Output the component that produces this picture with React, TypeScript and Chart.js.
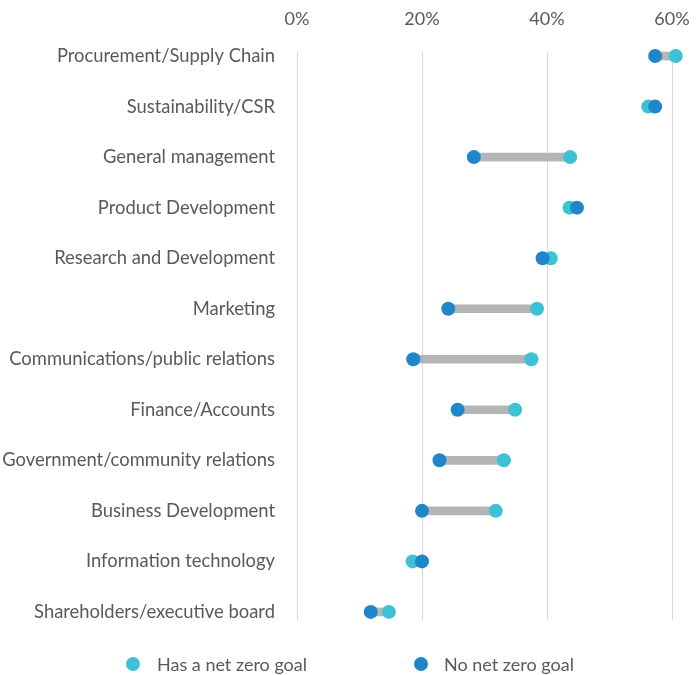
import React, { useEffect, useRef } from "react";
import { Chart, registerables } from "chart.js";

Chart.register(...registerables);

const categories = [
  "Procurement/Supply Chain",
  "Sustainability/CSR",
  "General management",
  "Product Development",
  "Research and Development",
  "Marketing",
  "Communications/public relations",
  "Finance/Accounts",
  "Government/community relations",
  "Business Development",
  "Information technology",
  "Shareholders/executive board",
];

const hasGoal = [60.6, 56.2, 43.7, 43.6, 40.6, 38.4, 37.5, 34.9, 33.1, 31.8, 18.5, 14.7];
const noGoal = [57.3, 57.3, 28.3, 44.8, 39.3, 24.2, 18.6, 25.7, 22.8, 20.0, 20.0, 11.8];

const xTickValues = [0, 20, 40, 60];
const seriesNames = ["Has a net zero goal", "No net zero goal"];

const CYAN = "#3cc2d4";
const BLUE = "#1f87c9";
const GRAY = "#b3b6b6";
const TEXT = "#595959";
const FONT_FAMILY = "Lato, 'Open Sans', sans-serif";
const FONT_SIZE = 18.4;

const bottomLegend = {
  id: "bottomLegend",
  afterDraw(chart: any) {
    const ctx = chart.ctx as CanvasRenderingContext2D;
    const items = [chart.data.datasets[1], chart.data.datasets[2]];
    ctx.save();
    ctx.font = `18px ${FONT_FAMILY}`;
    ctx.textBaseline = "middle";
    ctx.textAlign = "left";
    const r = 7;
    const mid = chart.width / 2;
    const centers = [mid - 217, mid + 71];
    const textOffsets = [24, 23];
    const y = 664;
    items.forEach((d: any, i: number) => {
      ctx.fillStyle = d.backgroundColor;
      ctx.beginPath();
      ctx.arc(centers[i], y, r, 0, Math.PI * 2);
      ctx.fill();
      ctx.fillStyle = TEXT;
      ctx.fillText(d.label, centers[i] + textOffsets[i], y + 1);
    });
    ctx.restore();
  },
};

function DumbbellChart() {
  const ref = useRef<HTMLCanvasElement | null>(null);
  useEffect(() => {
    if (!ref.current) return;
    const chart = new Chart(ref.current, {
      type: "bar",
      data: {
        datasets: [
          {
            type: "bar",
            label: "range",
            data: categories.map((_, i) => ({ x: [noGoal[i], hasGoal[i]], y: i })) as any,
            backgroundColor: GRAY,
            barThickness: 8,
            borderWidth: 0,
            order: 2,
            clip: false as any,
          },
          {
            type: "scatter",
            label: seriesNames[0],
            data: categories.map((_, i) => ({ x: hasGoal[i], y: i })),
            backgroundColor: CYAN,
            borderColor: CYAN,
            pointRadius: 7,
            pointHoverRadius: 7,
            borderWidth: 0,
            order: 1,
            clip: false as any,
          },
          {
            type: "scatter",
            label: seriesNames[1],
            data: categories.map((_, i) => ({ x: noGoal[i], y: i })),
            backgroundColor: BLUE,
            borderColor: BLUE,
            pointRadius: 7,
            pointHoverRadius: 7,
            borderWidth: 0,
            order: 0,
            clip: false as any,
          },
        ] as any,
      },
      plugins: [bottomLegend],
      options: {
        animation: false,
        responsive: true,
        maintainAspectRatio: false,
        indexAxis: "y",
        layout: { padding: { left: 0, right: 28, top: 0, bottom: 55 } },
        plugins: {
          legend: { display: false },
          tooltip: { enabled: false },
        },
        scales: {
          x: {
            type: "linear",
            position: "top",
            min: 0,
            max: 60,
            afterBuildTicks: (s: any) => {
              s.ticks = xTickValues.map((v) => ({ value: v }));
            },
            afterFit: (s: any) => {
              s.height = 52;
              s.paddingLeft = 0;
              s.paddingRight = 0;
            },
            ticks: {
              padding: 22,
              color: TEXT,
              font: { family: FONT_FAMILY, size: 18 },
              callback: (v: any) => `${v}%`,
              maxRotation: 0,
            },
            grid: { color: "#d8d8d8", lineWidth: 1, drawTicks: false },
            border: { display: false },
          },
          y: {
            type: "linear",
            reverse: true,
            min: -0.08,
            max: 11.16,
            offset: false,
            afterBuildTicks: (s: any) => {
              s.ticks = categories.map((_, i) => ({ value: i }));
            },
            afterFit: (s: any) => {
              s.width = 297;
              s.paddingTop = 0;
              s.paddingBottom = 0;
            },
            ticks: {
              padding: 22,
              color: TEXT,
              font: { family: FONT_FAMILY, size: FONT_SIZE },
              callback: (v: any) => categories[v as number],
              autoSkip: false,
            },
            grid: { display: false, offset: false, drawTicks: false },
            border: { display: false },
          },
        },
      } as any,
    });
    return () => chart.destroy();
  }, []);
  return <canvas ref={ref} />;
}

export default function App() {
  return (
    <div style={{ position: "fixed", left: 0, top: 0, width: 700, height: 675, background: "#fff" }}>
      <DumbbellChart />
    </div>
  );
}
